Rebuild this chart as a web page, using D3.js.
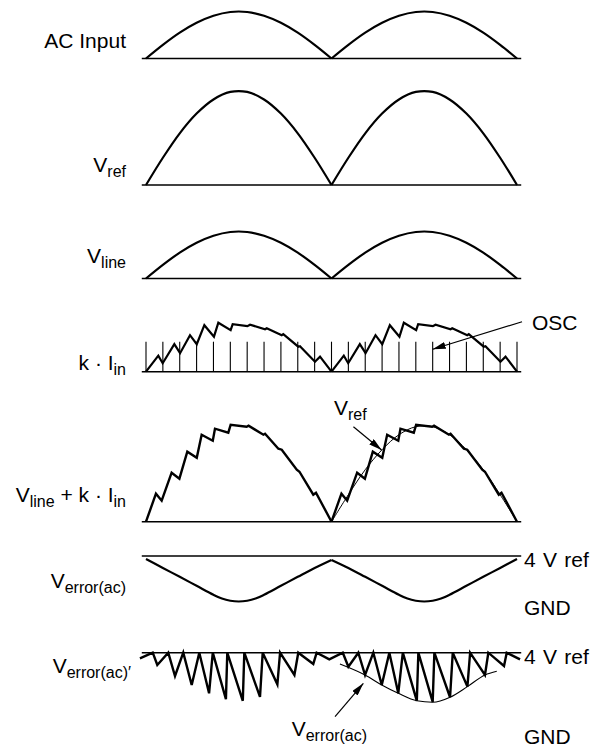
<!DOCTYPE html>
<html>
<head>
<meta charset="utf-8">
<script src="https://cdnjs.cloudflare.com/ajax/libs/d3/7.8.5/d3.min.js"></script>
<style>
body { margin: 0; background: #fff; }
text { font-family: "Liberation Sans", Arial, Helvetica, sans-serif; fill: #000; white-space: pre; }
</style>
</head>
<body>
<svg id="chart" width="603" height="748"></svg>
<script>
// time runs in OSC periods, two half cycles of the line
var oscPeriods = 22;
var halfCycle = 11;

// smooth rectified waveforms, relative amplitude
var archT = [0, 1, 2, 3, 4, 5, 6, 7, 8, 9, 10, 11, 12, 13, 14, 15, 16, 17, 18, 19, 20, 21, 22];
var acInput = [0, 0.29, 0.55, 0.76, 0.91, 0.99, 0.99, 0.91, 0.76, 0.55, 0.29, 0, 0.29, 0.55, 0.76, 0.91, 0.99, 0.99, 0.91, 0.76, 0.55, 0.29, 0];
var vRef = [0, 0.29, 0.55, 0.76, 0.91, 0.99, 0.99, 0.91, 0.76, 0.55, 0.29, 0, 0.29, 0.55, 0.76, 0.91, 0.99, 0.99, 0.91, 0.76, 0.55, 0.29, 0];
var vLine = [0, 0.29, 0.55, 0.76, 0.91, 0.99, 0.99, 0.91, 0.76, 0.55, 0.29, 0, 0.29, 0.55, 0.76, 0.91, 0.99, 0.99, 0.91, 0.76, 0.55, 0.29, 0];

// k * Iin over one half cycle (repeats)
var kIinT = [0, 0.73, 0.99, 1.68, 2.02, 2.61, 3.01, 3.46, 4.03, 4.29, 5.02, 5.14, 6.01, 6.17, 7.06, 7.16, 8.05, 8.14, 9.03, 9.13, 10.02, 10.32, 11];
var kIinV = [0, 0.32, 0.17, 0.55, 0.37, 0.73, 0.55, 0.93, 0.70, 0.98, 0.83, 0.95, 0.91, 0.94, 0.85, 0.87, 0.73, 0.75, 0.50, 0.51, 0.20, 0.30, 0];
var oscTickHeight = 0.6;

// Vline + k * Iin over one half cycle (repeats)
var sumT = [0, 0.59, 0.93, 1.52, 1.98, 2.45, 3.01, 3.30, 3.96, 4.09, 4.88, 5.02, 5.97, 6.08, 6.96, 7.06, 7.85, 8.05, 8.94, 9.10, 9.92, 10.08, 11];
var sumV = [0, 0.28, 0.21, 0.49, 0.43, 0.70, 0.64, 0.87, 0.81, 0.93, 0.89, 0.97, 0.95, 0.96, 0.87, 0.88, 0.73, 0.72, 0.52, 0.50, 0.27, 0.29, 0];
// thin Vref drawn over the second half
var overT = [11, 12, 13, 14, 15, 16, 17, 18, 19, 20, 21, 22];
var overV = [0, 0.27, 0.52, 0.72, 0.87, 0.95, 0.95, 0.87, 0.72, 0.52, 0.27, 0];

// Verror(ac), volts (4 V ref to GND)
var errT = [0, 1, 2, 3, 4, 4.5, 5, 5.5, 6, 6.5, 7, 8, 9, 10, 11, 12, 13, 14, 15, 15.5, 16, 16.5, 17, 17.5, 18, 19, 20, 21, 22];
var errV = [3.77, 3.08, 2.40, 1.71, 1.02, 0.73, 0.56, 0.5, 0.56, 0.73, 1.02, 1.71, 2.40, 3.08, 3.7, 3.08, 2.40, 1.71, 1.02, 0.73, 0.56, 0.5, 0.56, 0.73, 1.02, 1.71, 2.40, 3.08, 3.77];

// Verror(ac)' sawtooth, volts
var sawT = [-0.36, 0.40, 0.67, 1.32, 1.72, 2.21, 2.71, 3.16, 3.74, 3.96, 4.74, 4.82, 5.74, 5.83, 6.76, 6.92, 7.79, 7.95, 8.80, 9.03, 9.92, 10.12, 10.87, 11.67, 12.00, 12.59, 12.99, 13.48, 13.98, 14.43, 14.96, 15.23, 16.06, 16.15, 17.00, 17.10, 18.03, 18.19, 19.06, 19.22, 20.10, 20.30, 21.23, 21.39, 22.18];
var sawV = [3.73, 4, 3.41, 4, 2.88, 4, 2.45, 4, 2.05, 4, 1.77, 4, 1.69, 4, 1.88, 4, 2.48, 4, 2.93, 4, 3.46, 4, 3.68, 4, 3.33, 4, 2.93, 4, 2.45, 4, 2.05, 4, 1.69, 4, 1.64, 4, 1.86, 4, 2.37, 4, 2.93, 4, 3.36, 4, 3.68];
// Verror(ac) envelope under the second half
var envT = [11.5, 12.99, 13.98, 14.96, 16.06, 17.0, 18.03, 19.06, 20.1, 20.8];
var envV = [3.46, 2.93, 2.45, 2.05, 1.69, 1.62, 1.86, 2.37, 2.93, 3.11];

var svg = d3.select("#chart");

var x = d3.scaleLinear().domain([0, oscPeriods]).range([146, 517]);

var yAc = d3.scaleLinear().domain([0, 1]).range([58.5, 11.5]);
var yRef = d3.scaleLinear().domain([0, 1]).range([185, 91]);
var yLine = d3.scaleLinear().domain([0, 1]).range([278.5, 231.5]);
var yKiin = d3.scaleLinear().domain([0, 1]).range([371.7, 321.7]);
var ySum = d3.scaleLinear().domain([0, 1]).range([521.7, 421.7]);
var yErr = d3.scaleLinear().domain([0, 4]).range([608, 556]);
var yErrP = d3.scaleLinear().domain([0, 4]).range([736, 652.7]);

var defs = svg.append("defs");
defs.append("marker")
    .attr("id", "head")
    .attr("viewBox", "0 0 13 7")
    .attr("refX", 13)
    .attr("refY", 3.5)
    .attr("markerWidth", 13)
    .attr("markerHeight", 7)
    .attr("markerUnits", "userSpaceOnUse")
    .attr("orient", "auto")
    .append("path")
    .attr("d", "M0,0L13,3.5L0,7Z")
    .attr("fill", "#000");

function pts(ts, vs, offset) {
    return ts.map(function(t, i) {
        return {t: t + (offset || 0), v: vs[i]};
    });
}

function lineFor(yScale, curve) {
    return d3.line()
        .x(function(d) { return x(d.t); })
        .y(function(d) { return yScale(d.v); })
        .curve(curve || d3.curveLinear);
}

function wave(data, yScale, curve, width) {
    svg.append("path")
        .datum(data)
        .attr("fill", "none")
        .attr("stroke", "#000")
        .attr("stroke-width", width)
        .attr("stroke-linejoin", "miter")
        .attr("d", lineFor(yScale, curve));
}

// cusp at the zero crossing: draw each half on its own
function arches(ts, vs, yScale, width) {
    var all = pts(ts, vs);
    wave(all.filter(function(d) { return d.t <= halfCycle; }), yScale, d3.curveCatmullRom, width);
    wave(all.filter(function(d) { return d.t >= halfCycle; }), yScale, d3.curveCatmullRom, width);
}

function rule(yPos) {
    svg.append("line")
        .attr("x1", x(-0.25))
        .attr("x2", x(oscPeriods + 0.25))
        .attr("y1", yPos)
        .attr("y2", yPos)
        .attr("stroke", "#000")
        .attr("stroke-width", 1.5);
}

function arrow(x1, y1, x2, y2) {
    svg.append("line")
        .attr("x1", x1).attr("y1", y1)
        .attr("x2", x2).attr("y2", y2)
        .attr("stroke", "#000")
        .attr("stroke-width", 1.2)
        .attr("marker-end", "url(#head)");
}

// parts: plain strings or {sub: "..."}
function label(parts, xPos, yPos, anchor) {
    var t = svg.append("text")
        .attr("x", xPos)
        .attr("y", yPos)
        .attr("text-anchor", anchor || "end")
        .attr("font-size", 21);
    var down = false;
    parts.forEach(function(p) {
        var isSub = typeof p !== "string";
        var span = t.append("tspan").text(isSub ? p.sub : p);
        if (isSub) {
            span.attr("font-size", 16);
            if (!down) { span.attr("dy", 5); down = true; }
        } else if (down) {
            span.attr("dy", -5);
            down = false;
        }
    });
    return t;
}

// AC input
rule(yAc(0));
arches(archT, acInput, yAc, 2.2);
label(["AC Input"], 126, 48);

// Vref
rule(yRef(0));
arches(archT, vRef, yRef, 2.2);
label(["V", {sub: "ref"}], 126, 171.7);

// Vline
rule(yLine(0));
arches(archT, vLine, yLine, 2.2);
label(["V", {sub: "line"}], 126, 263);

// k * Iin with the OSC clock ticks
rule(yKiin(0));
svg.append("g")
    .selectAll("line")
    .data(d3.range(oscPeriods + 1))
    .enter().append("line")
    .attr("x1", function(d) { return x(d); })
    .attr("x2", function(d) { return x(d); })
    .attr("y1", yKiin(0))
    .attr("y2", yKiin(oscTickHeight))
    .attr("stroke", "#000")
    .attr("stroke-width", 1.1);
[0, halfCycle].forEach(function(off) {
    wave(pts(kIinT, kIinV, off), yKiin, d3.curveLinear, 2.2);
});
label(["k · I", {sub: "in"}], 126, 370);
arrow(x(22.3), yKiin(1.0), x(17), yKiin(0.45));
label(["OSC"], 532, 330, "start");

// Vline + k * Iin
rule(ySum(0));
wave(pts(overT, overV), ySum, d3.curveCatmullRom, 1);
[0, halfCycle].forEach(function(off) {
    wave(pts(sumT, sumV, off), ySum, d3.curveLinear, 2.4);
});
label(["V", {sub: "line"}, " + k · I", {sub: "in"}], 126, 501.7);
label(["V", {sub: "ref"}], x(11.15), 415, "start");
arrow(x(12.3), ySum(0.95), x(13.97), ySum(0.717));

// Verror(ac)
rule(yErr(4));
arches(errT, errV, yErr, 2.2);
label(["V", {sub: "error(ac)"}], 126, 588);
label(["4 V ref"], 524, yErr(4) + 11, "start").attr("word-spacing", 1.5);
label(["GND"], 524, yErr(0) + 7, "start");

// Verror(ac)'
rule(yErrP(4));
wave(pts(envT, envV), yErrP, d3.curveMonotoneX, 1.1);
wave(pts(sawT, sawV), yErrP, d3.curveLinear, 2.4);
label(["V", {sub: "error(ac)′"}], 131, 673);
label(["4 V ref"], 524, yErrP(4) + 11, "start").attr("word-spacing", 1.5);
label(["GND"], 524, yErrP(0) + 8, "start");
arrow(x(11.21), yErrP(0.93), x(12.89), yErrP(2.53));
label(["V", {sub: "error(ac)"}], x(8.64), 736, "start");
</script>
</body>
</html>
